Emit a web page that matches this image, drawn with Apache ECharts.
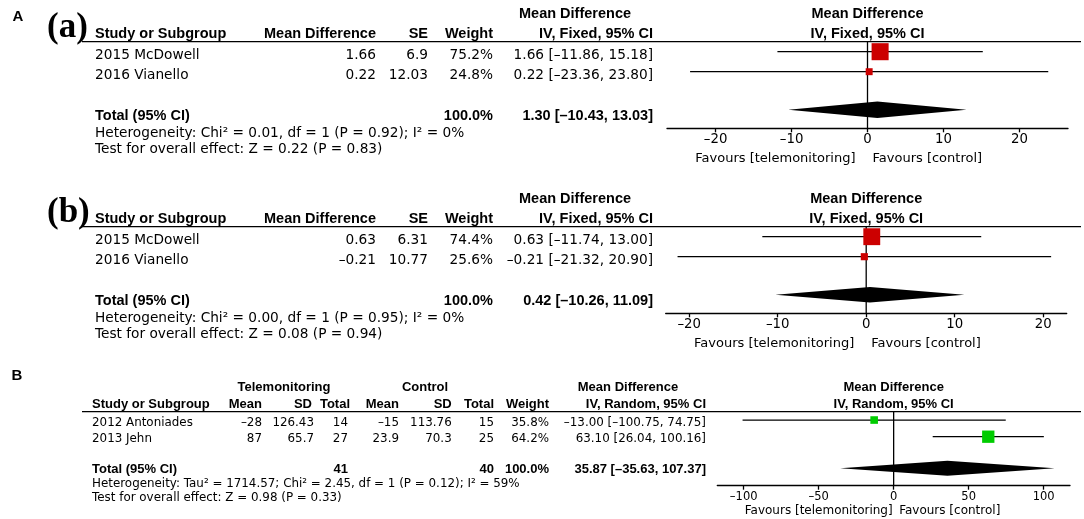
<!DOCTYPE html>
<html>
<head>
<meta charset="utf-8">
<script src="https://cdn.jsdelivr.net/npm/echarts@6/dist/echarts.min.js"></script>
<style>
  html, body { margin: 0; padding: 0; background: #fff; }
  #main { width: 1084px; height: 519px; }
</style>
</head>
<body>
<div id="main"></div>
<script>
// ---- (a) fixed effect ----
var studiesA = ['2015 McDowell', '2016 Vianello'];
var mdA = [1.66, 0.22];
var seA = [6.9, 12.03];
var weightA = [75.2, 24.8];
var loA = [-11.86, -23.36];
var hiA = [15.18, 23.80];
var totalA = [1.30, -10.43, 13.03]; // estimate, lower, upper
var hetA = 'Heterogeneity: Chi² = 0.01, df = 1 (P = 0.92); I² = 0%';
var testA = 'Test for overall effect: Z = 0.22 (P = 0.83)';
var ticksA = [-20, -10, 0, 10, 20];

// ---- (b) fixed effect ----
var studiesB = ['2015 McDowell', '2016 Vianello'];
var mdB = [0.63, -0.21];
var seB = [6.31, 10.77];
var weightB = [74.4, 25.6];
var loB = [-11.74, -21.32];
var hiB = [13.00, 20.90];
var totalB = [0.42, -10.26, 11.09];
var hetB = 'Heterogeneity: Chi² = 0.00, df = 1 (P = 0.95); I² = 0%';
var testB = 'Test for overall effect: Z = 0.08 (P = 0.94)';
var ticksB = [-20, -10, 0, 10, 20];

// ---- B random effects ----
var studiesR = ['2012 Antoniades', '2013 Jehn'];
var teleMean = [-28, 87];
var teleSD = [126.43, 65.7];
var teleN = [14, 27];
var ctrlMean = [-15, 23.9];
var ctrlSD = [113.76, 70.3];
var ctrlN = [15, 25];
var weightR = [35.8, 64.2];
var mdR = [-13.00, 63.10];
var loR = [-100.75, 26.04];
var hiR = [74.75, 100.16];
var totalR = [35.87, -35.63, 107.37];
var hetR = 'Heterogeneity: Tau² = 1714.57; Chi² = 2.45, df = 1 (P = 0.12); I² = 59%';
var testR = 'Test for overall effect: Z = 0.98 (P = 0.33)';
var ticksR = [-100, -50, 0, 50, 100];

var RED = '#cc0000', GREEN = '#00cc00';
var REG = '"DejaVu Sans"', BOLD = '"Liberation Sans"';

function dash(v) { return String(v).replace('-', '–'); }
function ci(m, l, h) { return dash(m.toFixed(2)) + ' [' + dash(l.toFixed(2)) + ', ' + dash(h.toFixed(2)) + ']'; }
function sum(a) { return a.reduce(function (s, v) { return s + v; }, 0); }

var chart = echarts.init(document.getElementById('main'));

// one panel = one grid; rows sit at 0.5, 1.5, total at 3.4 (row units)
var panels = [
  { grid: { left: 667, top: 41.7, width: 401, height: 86.6 }, range: 26.4, yMax: 4.33, ticks: ticksA,
    md: mdA, lo: loA, hi: hiA, w: weightA, total: totalA, color: RED, sq: 1, dh: 8.3, fs: 13.3, margin: 5 },
  { grid: { left: 665.7, top: 226.7, width: 401, height: 86.6 }, range: 22.66, yMax: 4.33, ticks: ticksB,
    md: mdB, lo: loB, hi: hiB, w: weightB, total: totalB, color: RED, sq: 1, dh: 7.8, fs: 13.3, margin: 5 },
  { grid: { left: 717.3, top: 411.7, width: 352.7, height: 74 }, range: 117.6, yMax: 4.44, ticks: ticksR,
    md: mdR, lo: loR, hi: hiR, w: weightR, total: totalR, color: GREEN, sq: 0.83, dh: 7.5, fs: 11.5, margin: 5.5 }
];

var grids = [], xAxes = [], yAxes = [], series = [];
panels.forEach(function (p, k) {
  grids.push(Object.assign({ outerBoundsMode: 'none' }, p.grid));
  xAxes.push({
    gridIndex: k, type: 'value', min: -p.range, max: p.range,
    axisLine: { show: true, onZero: false, lineStyle: { color: '#000', width: 1.3 } },
    axisTick: { show: true, customValues: p.ticks, length: 4, lineStyle: { color: '#000', width: 1.3 } },
    axisLabel: { customValues: p.ticks, color: '#000', fontFamily: 'DejaVu Sans', fontSize: p.fs,
      margin: p.margin, formatter: function (v) { return dash(v); } },
    splitLine: { show: false }
  });
  yAxes.push({ gridIndex: k, type: 'value', min: 0, max: p.yMax, inverse: true, show: false });

  // line of no effect
  series.push({
    type: 'custom', xAxisIndex: k, yAxisIndex: k, z: 1, silent: true,
    data: [[0, 0, p.yMax]],
    encode: { x: 0, y: [1, 2] },
    renderItem: function (params, api) {
      var a = api.coord([api.value(0), api.value(1)]);
      var b = api.coord([api.value(0), api.value(2)]);
      return { type: 'line', shape: { x1: a[0], y1: a[1], x2: b[0], y2: b[1] },
        style: { stroke: '#000', lineWidth: 1.3 } };
    }
  });
  // pooled diamond
  series.push({
    type: 'custom', xAxisIndex: k, yAxisIndex: k, z: 2, silent: true,
    data: [[p.total[0], p.total[1], p.total[2], 3.4]],
    encode: { x: [0, 1, 2], y: 3 },
    renderItem: function (params, api) {
      var y = api.value(3);
      var c = api.coord([api.value(0), y]);
      var l = api.coord([api.value(1), y]);
      var r = api.coord([api.value(2), y]);
      return { type: 'polygon', shape: { points: [[l[0], c[1]], [c[0], c[1] - p.dh], [r[0], c[1]], [c[0], c[1] + p.dh]] },
        style: { fill: '#000' } };
    }
  });
  // study CIs and weighted squares
  series.push({
    type: 'custom', xAxisIndex: k, yAxisIndex: k, z: 3, silent: true,
    data: p.md.map(function (m, i) { return [m, p.lo[i], p.hi[i], p.w[i], i + 0.5]; }),
    encode: { x: [0, 1, 2], y: 4 },
    renderItem: function (params, api) {
      var y = api.value(4);
      var a = api.coord([api.value(1), y]);
      var b = api.coord([api.value(2), y]);
      var c = api.coord([api.value(0), y]);
      var s = (2 + 0.2 * api.value(3)) * p.sq;
      return { type: 'group', children: [
        { type: 'line', shape: { x1: a[0], y1: a[1], x2: b[0], y2: b[1] }, style: { stroke: '#000', lineWidth: 1.3 } },
        { type: 'rect', shape: { x: c[0] - s / 2, y: c[1] - s / 2, width: s, height: s }, style: { fill: p.color } }
      ] };
    }
  });
});

chart.setOption({
  animation: false,
  backgroundColor: '#fff',
  grid: grids, xAxis: xAxes, yAxis: yAxes, series: series
});

// ---- table text ----
var els = [];
function T(x, y, text, font, align) {
  els.push({ type: 'text', x: x, y: y, silent: true,
    style: { text: text, font: font, fill: '#000', align: align || 'left', textAlign: align || 'left',
      verticalAlign: 'middle', textVerticalAlign: 'middle' } });
}
function L(x1, y1, x2) {
  els.push({ type: 'line', silent: true, shape: { x1: x1, y1: y1, x2: x2, y2: y1 }, style: { stroke: '#000', lineWidth: 1.3 } });
}

var r13 = '13.7px ' + REG, b14 = 'bold 14.5px ' + BOLD;
function fixedPanel(k, dy, label, studies, md, se, w, lo, hi, total, het, test) {
  var x0 = chart.convertToPixel({ xAxisIndex: k }, 0);
  T(47, 27.5 + dy, label, 'bold 35px "Liberation Serif"');
  L(82, 41.7 + dy, 1081);
  T(575, 13.5 + dy, 'Mean Difference', b14, 'center');
  T(95, 33.5 + dy, 'Study or Subgroup', b14);
  T(376, 33.5 + dy, 'Mean Difference', b14, 'right');
  T(428, 33.5 + dy, 'SE', b14, 'right');
  T(493, 33.5 + dy, 'Weight', b14, 'right');
  T(653, 33.5 + dy, 'IV, Fixed, 95% CI', b14, 'right');
  studies.forEach(function (s, i) {
    var y = 55.5 + 20 * i + dy;
    T(95, y, s, r13);
    T(376, y, dash(md[i]), r13, 'right');
    T(428, y, String(se[i]), r13, 'right');
    T(493, y, w[i].toFixed(1) + '%', r13, 'right');
    T(653, y, ci(md[i], lo[i], hi[i]), r13, 'right');
  });
  T(95, 115.5 + dy, 'Total (95% CI)', b14);
  T(493, 115.5 + dy, sum(w).toFixed(1) + '%', b14, 'right');
  T(653, 115.5 + dy, ci(total[0], total[1], total[2]), b14, 'right');
  T(95, 133.5 + dy, het, r13);
  T(95, 149 + dy, test, r13);
  T(x0, 13.5 + dy, 'Mean Difference', b14, 'center');
  T(x0, 33.5 + dy, 'IV, Fixed, 95% CI', b14, 'center');
  T(x0 - 12, 158.5 + dy, 'Favours [telemonitoring]', '13px ' + REG, 'right');
  T(x0 + 5, 158.5 + dy, 'Favours [control]', '13px ' + REG, 'left');
}

T(18, 16.5, 'A', 'bold 15px ' + BOLD, 'center');
fixedPanel(0, 0, '(a)', studiesA, mdA, seA, weightA, loA, hiA, totalA, hetA, testA);
fixedPanel(1, 185, '(b)', studiesB, mdB, seB, weightB, loB, hiB, totalB, hetB, testB);

// ---- B random effects table ----
var r12 = '11.9px ' + REG, b13 = 'bold 13px ' + BOLD;
var xR = chart.convertToPixel({ xAxisIndex: 2 }, 0);
T(17, 375.5, 'B', 'bold 15px ' + BOLD, 'center');
L(82, 411.7, 1081);
T(284, 387, 'Telemonitoring', b13, 'center');
T(425, 387, 'Control', b13, 'center');
T(628, 387, 'Mean Difference', b13, 'center');
T(92, 404, 'Study or Subgroup', b13);
T(262, 404, 'Mean', b13, 'right');
T(312, 404, 'SD', b13, 'right');
T(350, 404, 'Total', b13, 'right');
T(399, 404, 'Mean', b13, 'right');
T(451.7, 404, 'SD', b13, 'right');
T(494, 404, 'Total', b13, 'right');
T(549, 404, 'Weight', b13, 'right');
T(706, 404, 'IV, Random, 95% CI', b13, 'right');
studiesR.forEach(function (s, i) {
  var y = 422.5 + 16.5 * i;
  T(92, y, s, r12);
  T(262, y, dash(teleMean[i]), r12, 'right');
  T(314, y, String(teleSD[i]), r12, 'right');
  T(348, y, String(teleN[i]), r12, 'right');
  T(399, y, dash(ctrlMean[i]), r12, 'right');
  T(451.7, y, String(ctrlSD[i]), r12, 'right');
  T(494, y, String(ctrlN[i]), r12, 'right');
  T(549, y, weightR[i].toFixed(1) + '%', r12, 'right');
  T(706, y, ci(mdR[i], loR[i], hiR[i]), r12, 'right');
});
T(92, 469, 'Total (95% CI)', b13);
T(348, 469, String(sum(teleN)), b13, 'right');
T(494, 469, String(sum(ctrlN)), b13, 'right');
T(549, 469, sum(weightR).toFixed(1) + '%', b13, 'right');
T(706, 469, ci(totalR[0], totalR[1], totalR[2]), b13, 'right');
T(92, 483.5, hetR, r12);
T(92, 497.5, testR, r12);
T(xR, 387, 'Mean Difference', b13, 'center');
T(xR, 404, 'IV, Random, 95% CI', b13, 'center');
T(xR - 1, 510.5, 'Favours [telemonitoring]', '12px ' + REG, 'right');
T(xR + 5.5, 510.5, 'Favours [control]', '12px ' + REG, 'left');

chart.setOption({ graphic: { elements: els } });
</script>
</body>
</html>
